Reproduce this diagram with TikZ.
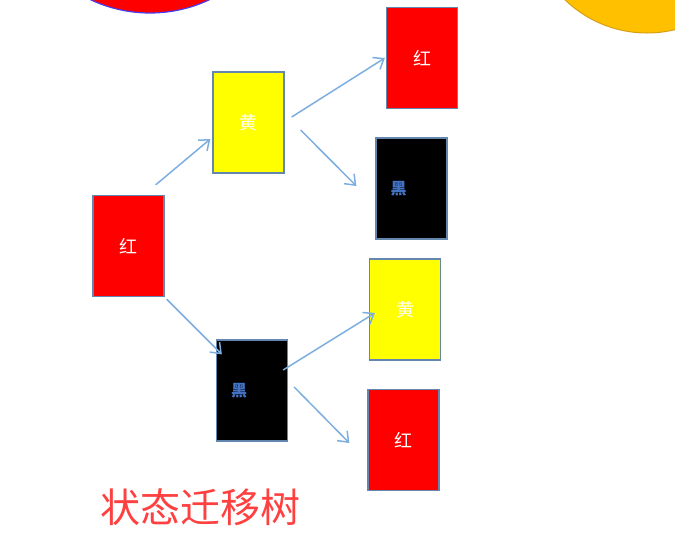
\documentclass[tikz,border=0pt]{standalone}
\usepackage{fontspec}
\usepackage{tikz}
\usetikzlibrary{arrows.meta,positioning,calc}
\newfontfamily\cjk{Noto Sans CJK SC}
\definecolor{redcolor}{RGB}{255,0,0}
\definecolor{yelcolor}{RGB}{255,255,0}
\definecolor{edgecolor}{RGB}{100,135,175}
\definecolor{arrcolor}{RGB}{125,174,224}
\definecolor{inkcolor}{RGB}{68,114,196}
\definecolor{titlecolor}{RGB}{255,64,64}
\definecolor{suncolor}{RGB}{255,192,0}
\definecolor{sunedge}{RGB}{215,160,20}
\definecolor{balledge}{RGB}{70,60,240}

\begin{document}
\begin{tikzpicture}[x=1pt, y=-1pt,
  box/.style={draw=edgecolor, line width=1.3pt, minimum width=71pt,
              minimum height=101pt, inner sep=0pt, text=white,
              font=\cjk\fontsize{18}{18}\selectfont},
  dark/.style={box, fill=black,
               label={[xshift=-13pt, text=inkcolor,
                       font=\cjk\bfseries\fontsize{16}{16}\selectfont]center:黑}},
  arr/.style={-{Straight Barb[length=9pt,width=14pt]}, line width=1.5pt, arrcolor}
]
\clip (0,0) rectangle (675,550);

\draw[fill=redcolor, draw=balledge, line width=1.2pt] (150,-126) circle[radius=139pt];
\draw[fill=suncolor, draw=sunedge, line width=1pt] (647,-85) circle[radius=118pt];

\node[box, fill=redcolor] (r0) at (128.5,246) {红};
\node[box, fill=yelcolor] (y1) at (248.5,122.5) {黄};
\node[dark] (k1) at (252,390.5) {};
\node[box, fill=redcolor] (r2) at (422,58) {红};
\node[dark] (k2) at (411.5,188.5) {};
\node[box, fill=yelcolor] (y3) at (405,309.5) {黄};
\node[box, fill=redcolor] (r3) at (403.5,440) {红};

\draw[arr] ([shift={(-9,-10)}]r0.north east) -- ([shift={(-2,16.5)}]y1.west);
\draw[arr] ([shift={(2,2)}]r0.south east) -- ([shift={(6,15)}]k1.north west);
\draw[arr] ([shift={(7,-5.5)}]y1.east) -- ([shift={(-1,0)}]r2.west);
\draw[arr] ([shift={(16,7.5)}]y1.east) -- ([shift={(-19,-2.5)}]k2.west);
\draw[arr] ([shift={(-5,-20.5)}]k1.east) -- ([shift={(6,3.5)}]y3.west);
\draw[arr] ([shift={(6,-3.5)}]k1.east) -- ([shift={(-18,3)}]r3.west);

\node[font=\cjk\fontsize{40}{40}\selectfont, text=titlecolor] (title) at (200,507)
  {状态迁移树};

\end{tikzpicture}
\end{document}
